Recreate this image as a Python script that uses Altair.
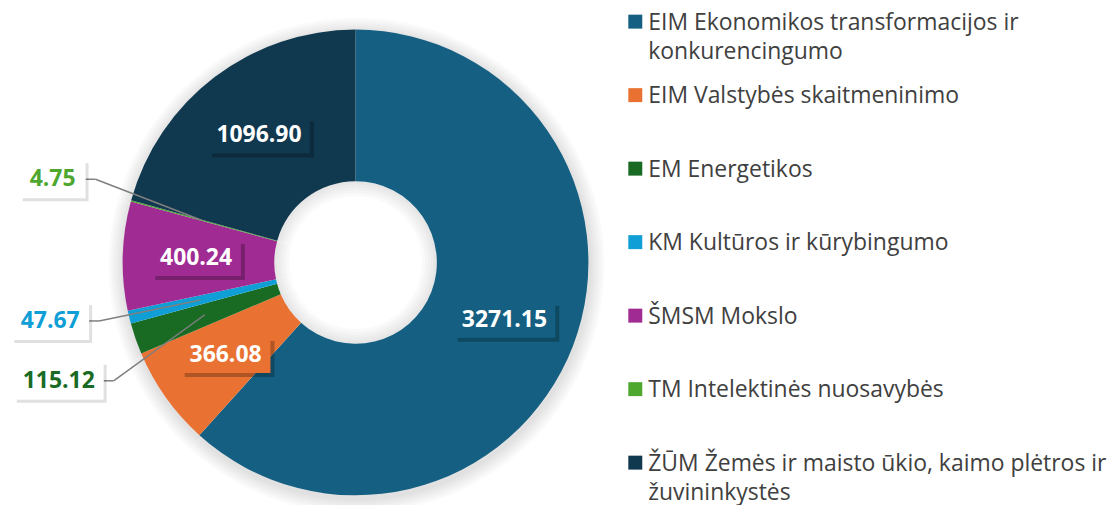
import textwrap
import pandas as pd
import altair as alt

categories = [
    "EIM Ekonomikos transformacijos ir konkurencingumo",
    "EIM Valstybės skaitmeninimo",
    "EM Energetikos",
    "KM Kultūros ir kūrybingumo",
    "ŠMSM Mokslo",
    "TM Intelektinės nuosavybės",
    "ŽŪM Žemės ir maisto ūkio, kaimo plėtros ir žuvininkystės",
]
values = [3271.15, 366.08, 115.12, 47.67, 400.24, 4.75, 1096.90]
colors = ["#156082", "#E97132", "#196B24", "#0F9ED5", "#A02B93", "#4EA72E", "#10394F"]

df = pd.DataFrame({
    "cat": categories,
    "value": values,
    "idx": list(range(len(values))),
    "legend": [textwrap.fill(c, 42) for c in categories],
})

CX, CY = 348.5, 254.5
R_OUT, R_IN = 233.5, 81.5
R_LAB, R_OUTLAB = 160, 315
FONT = "Open Sans"

base = alt.Chart(df)
color = alt.Color("cat:N", scale=alt.Scale(domain=categories, range=colors), legend=None)
theta = alt.Theta("value:Q", stack=True)
order = alt.Order("idx:Q")

layers = []

# soft outer shadow of the ring
for k in range(1, 7):
    layers.append(
        base.mark_arc(outerRadius=R_OUT + 2.5 * k, innerRadius=R_OUT - 4, color="#000000", opacity=0.018)
        .encode(theta=theta, order=order, x=alt.value(CX + 1), y=alt.value(CY + 3))
    )

donut = base.mark_arc(outerRadius=R_OUT, innerRadius=R_IN).encode(
    theta=theta, order=order, color=color, x=alt.value(CX), y=alt.value(CY)
)
layers.append(donut)

# inner hole shadow
for k in range(1, 6):
    layers.append(
        base.mark_arc(outerRadius=R_IN, innerRadius=R_IN - 3 * k, color="#000000", opacity=0.02)
        .encode(theta=theta, order=order, x=alt.value(CX), y=alt.value(CY))
    )

lab = base.transform_joinaggregate(total="sum(value)").transform_window(
    cum="sum(value)", sort=[alt.SortField("idx")], frame=[None, 0]
).transform_calculate(
    mid="(datum.cum - datum.value / 2) / datum.total * 2 * PI",
    txt="format(datum.value, '.2f')",
).transform_calculate(
    sx="sin(datum.mid)",
    sy="-cos(datum.mid)",
    hw="(length(datum.txt) * 12 + 18) / 2",
).transform_calculate(
    lx=f"{CX} + {R_LAB} * datum.sx",
    ly=f"{CY} + {R_LAB} * datum.sy",
)

def px(f):
    return alt.X(f"{f}:Q", scale=None, axis=None)

def py(f):
    return alt.Y(f"{f}:Q", scale=None, axis=None)

# inside labels
inside = lab.transform_filter("datum.value >= 200").transform_calculate(
    bx1="datum.lx - datum.hw", bx2="datum.lx + datum.hw",
    by1="datum.ly - 18", by2="datum.ly + 18",
    sx1="datum.lx - datum.hw + 4", sx2="datum.lx + datum.hw + 4",
    sy1="datum.ly - 18 + 4", sy2="datum.ly + 18 + 4",
)
layers.append(inside.mark_rect(color="#000000", opacity=0.25).encode(
    x=px("sx1"), x2=alt.X2("sx2"), y=py("sy1"), y2=alt.Y2("sy2")))
layers.append(inside.mark_rect().encode(
    x=px("bx1"), x2=alt.X2("bx2"), y=py("by1"), y2=alt.Y2("by2"), color=color))
layers.append(inside.mark_text(font=FONT, fontWeight="bold", fontSize=23, color="white",
                               align="center", baseline="middle").encode(
    x=px("lx"), y=py("ly"), text="txt:N"))

# outside labels with leader lines
outside = lab.transform_filter("datum.value < 200").transform_calculate(
    oy0=f"{CY} + {R_OUTLAB} * datum.sy",
    ox=f"{CX} + {R_OUTLAB} * datum.sx",
).transform_window(
    window=[{"op": "lag", "field": "oy0", "as": "prev"}, {"op": "lead", "field": "oy0", "as": "next"}],
    sort=[alt.SortField("oy0")],
).transform_calculate(
    oy="datum.oy0 + (isValid(datum.prev) ? max(0, (60 - (datum.oy0 - datum.prev)) / 2) : 0)"
       " - (isValid(datum.next) ? max(0, (60 - (datum.next - datum.oy0)) / 2) : 0)",
).transform_calculate(
    bx="datum.ox + datum.hw",
    ex="datum.ox + datum.hw + 10",
    bx1="datum.ox - datum.hw", bx2="datum.ox + datum.hw",
    by1="datum.oy - 19", by2="datum.oy + 19",
    sx1="datum.ox - datum.hw + 3", sx2="datum.ox + datum.hw + 3",
    sy1="datum.oy - 19 + 3", sy2="datum.oy + 19 + 3",
)
layers.append(outside.mark_rule(color="#7F7F7F", strokeWidth=1.5).encode(
    x=px("lx"), y=py("ly"), x2=alt.X2("ex"), y2=alt.Y2("oy")))
layers.append(outside.mark_rule(color="#7F7F7F", strokeWidth=1.5).encode(
    x=px("ex"), y=py("oy"), x2=alt.X2("bx"), y2=alt.Y2("oy")))
layers.append(outside.mark_rect(color="#000000", opacity=0.12).encode(
    x=px("sx1"), x2=alt.X2("sx2"), y=py("sy1"), y2=alt.Y2("sy2")))
layers.append(outside.mark_rect(color="#FFFFFF").encode(
    x=px("bx1"), x2=alt.X2("bx2"), y=py("by1"), y2=alt.Y2("by2")))
layers.append(outside.mark_text(font=FONT, fontWeight="bold", fontSize=23,
                                align="center", baseline="middle").encode(
    x=px("ox"), y=py("oy"), text="txt:N", color=color))

# legend
leg = base.transform_calculate(gy="13 + datum.idx * 73.7")
layers.append(leg.mark_square(size=196, opacity=1).encode(
    x=alt.value(629), y=py("gy"), color=color))
layers.append(leg.mark_text(align="left", baseline="alphabetic", dy=8, fontSize=23, font=FONT,
                            color="#404040", lineBreak="\n", lineHeight=29).encode(
    x=alt.value(642), y=py("gy"), text="legend:N"))

chart = alt.layer(*layers).properties(
    width=1104, height=497, padding=0,
    autosize=alt.AutoSizeParams(type="none"),
).configure_view(stroke=None)

chart.save("out.html", embed_options={"renderer": "svg", "actions": False})
